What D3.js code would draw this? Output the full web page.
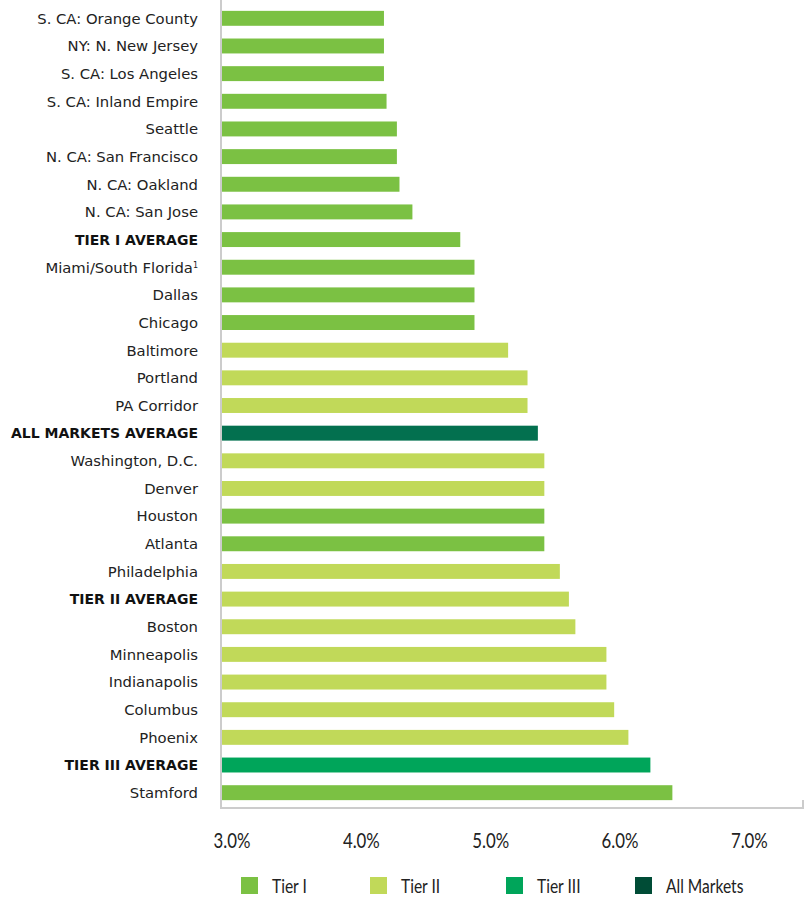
<!DOCTYPE html>
<html>
<head>
<meta charset="utf-8">
<script src="https://cdn.jsdelivr.net/npm/d3@7"></script>
<style>
  body { margin: 0; background: #fff; }
  .cat { font-family: "DejaVu Sans", sans-serif; font-size: 14.8px; fill: #222; }
  .cat.avg { font-weight: bold; font-size: 14px; fill: #111; }
  .narrow { font-family: "Lato", sans-serif; font-size: 21px; fill: #222; }
</style>
</head>
<body>
<script>
// market names, top to bottom
const markets = [
  "S. CA: Orange County", "NY: N. New Jersey", "S. CA: Los Angeles", "S. CA: Inland Empire",
  "Seattle", "N. CA: San Francisco", "N. CA: Oakland", "N. CA: San Jose",
  "TIER I AVERAGE", "Miami/South Florida", "Dallas", "Chicago",
  "Baltimore", "Portland", "PA Corridor", "ALL MARKETS AVERAGE",
  "Washington, D.C.", "Denver", "Houston", "Atlanta",
  "Philadelphia", "TIER II AVERAGE", "Boston", "Minneapolis",
  "Indianapolis", "Columbus", "Phoenix", "TIER III AVERAGE", "Stamford"
];
// values in percent
const rates = [
  4.26, 4.26, 4.26, 4.28,
  4.36, 4.36, 4.38, 4.48,
  4.85, 4.96, 4.96, 4.96,
  5.22, 5.37, 5.37, 5.45,
  5.50, 5.50, 5.50, 5.50,
  5.62, 5.69, 5.74, 5.98,
  5.98, 6.04, 6.15, 6.32, 6.49
];
const tiers = [
  "Tier I", "Tier I", "Tier I", "Tier I",
  "Tier I", "Tier I", "Tier I", "Tier I",
  "Tier I", "Tier I", "Tier I", "Tier I",
  "Tier II", "Tier II", "Tier II", "All Markets",
  "Tier II", "Tier II", "Tier I", "Tier I",
  "Tier II", "Tier II", "Tier II", "Tier II",
  "Tier II", "Tier II", "Tier II", "Tier III", "Tier I"
];
const tickValues = [3, 4, 5, 6, 7];
const tickLabels = ["3.0%", "4.0%", "5.0%", "6.0%", "7.0%"];
const legendNames = ["Tier I", "Tier II", "Tier III", "All Markets"];

const colors = {"Tier I": "#7bc143", "Tier II": "#c1d959", "Tier III": "#00a55a", "All Markets": "#03704f"};
const legendColors = {"Tier I": "#7bc143", "Tier II": "#c1d959", "Tier III": "#00a55a", "All Markets": "#004c36"};

const width = 804, height = 897;
const svg = d3.select("body").append("svg")
    .attr("width", width)
    .attr("height", height);

const x = d3.scaleLinear().domain([3, 7.5]).range([221, 803]);
const y = d3.scaleBand().domain(markets).range([4.5, 806.5])
    .paddingInner(0.46).paddingOuter(0.23);

// frame (left, bottom, right)
svg.append("path")
    .attr("d", "M221,0V808H803V800")
    .attr("fill", "none")
    .attr("stroke", "#cccccc")
    .attr("stroke-width", 2);

svg.selectAll(".bar")
    .data(markets)
    .enter().append("rect")
    .attr("class", "bar")
    .attr("x", x(3) + 1)
    .attr("y", function(d) { return y(d); })
    .attr("width", function(d, i) { return x(rates[i]) - x(3) - 1; })
    .attr("height", y.bandwidth())
    .attr("fill", function(d, i) { return colors[tiers[i]]; });

// category labels
const labels = svg.selectAll(".cat")
    .data(markets)
    .enter().append("text")
    .attr("class", function(d) { return d.indexOf("AVERAGE") >= 0 ? "cat avg" : "cat"; })
    .attr("x", 198)
    .attr("y", function(d) { return y(d) + y.bandwidth() / 2; })
    .attr("dy", "0.36em")
    .attr("text-anchor", "end")
    .text(function(d) { return d; });

// footnote marker on Miami
labels.filter(function(d) { return d === "Miami/South Florida"; })
    .append("tspan")
    .attr("dy", "-0.55em")
    .attr("font-size", "8px")
    .text("1");

// x tick labels (squeezed to look condensed)
svg.selectAll(".tick-label")
    .data(tickValues)
    .enter().append("g")
    .attr("class", "tick-label")
    .attr("transform", function(d) { return "translate(" + (x(d) + 11) + ",841) scale(0.8,1)"; })
    .append("text")
    .attr("class", "narrow")
    .attr("dy", "0.35em")
    .attr("text-anchor", "middle")
    .text(function(d, i) { return tickLabels[i]; });

// legend
const legendX = [241, 370, 506, 635];
const lg = svg.selectAll(".legend")
    .data(legendNames)
    .enter().append("g")
    .attr("class", "legend")
    .attr("transform", function(d, i) { return "translate(" + legendX[i] + ",877)"; });

lg.append("rect")
    .attr("width", 17)
    .attr("height", 17)
    .attr("fill", function(d) { return legendColors[d]; });

lg.append("g")
    .attr("transform", "translate(31,15.5) scale(0.82,1)")
    .append("text")
    .attr("class", "narrow")
    .style("font-size", "19px")
    .text(function(d) { return d; });
</script>
</body>
</html>
